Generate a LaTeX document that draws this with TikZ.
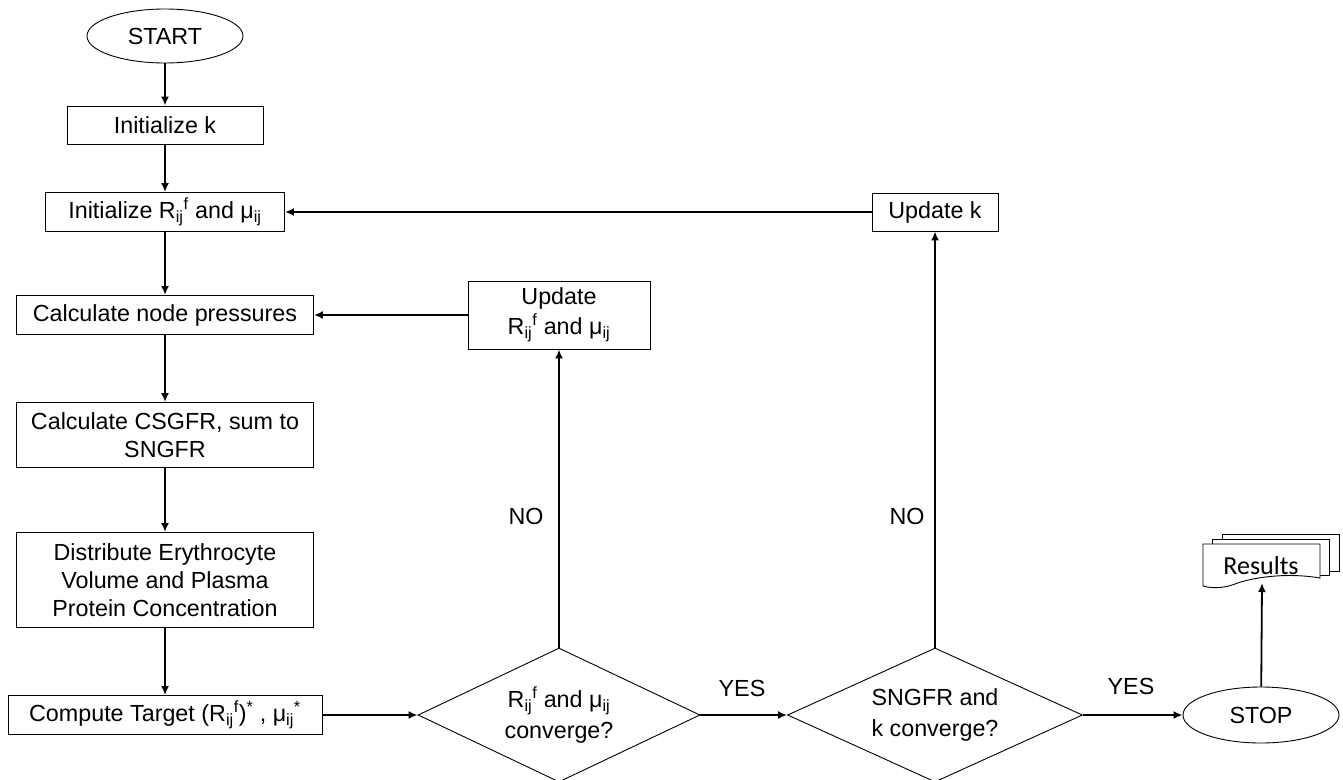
\documentclass[tikz,border=0pt]{standalone}
\usepackage{fontspec}
\setmainfont{Liberation Sans}
\newfontfamily\calib{Carlito}
\usetikzlibrary{shapes.geometric,arrows.meta}
\newcommand{\Rijf}{R\textsubscript{ij}\textsuperscript{f}}
\newcommand{\muij}{μ\textsubscript{ij}}
\begin{document}
\begin{tikzpicture}[x=1pt,y=-1pt,
  font=\fontsize{23.3}{28}\selectfont,
  box/.style={draw, line width=0.9pt, inner sep=2pt, align=center},
  dia/.style={draw, diamond, line width=0.9pt, inner sep=0pt, aspect=2.1, minimum height=134pt, align=center, font=\fontsize{23.3}{31}\selectfont},
  oval/.style={draw, ellipse, line width=0.9pt, inner sep=0pt},
  arr/.style={line width=1.8pt, -{Latex[length=9pt,width=8pt]}},
  lbl/.style={inner sep=0pt}]
\useasboundingbox (0,0) rectangle (1343,779);
\clip (0,0) rectangle (1343,779);

% left column
\node[oval, minimum width=156pt, minimum height=54pt] (start) at (165,36) {START};
\node[box, minimum width=196pt, minimum height=38pt] (initk) at (165,125) {Initialize k};
\node[box, minimum width=239pt, minimum height=39pt] (initR) at (165,212) {Initialize \Rijf{} and \muij};
\node[box, minimum width=297pt, minimum height=39pt] (calcP) at (165,315) {Calculate node pressures};
\node[box, minimum width=297pt, minimum height=65pt] (calcC) at (165,435) {Calculate CSGFR, sum to\\SNGFR};
\node[box, minimum width=297pt, minimum height=95pt] (dist) at (165,580) {Distribute Erythrocyte\\Volume and Plasma\\Protein Concentration};
\node[box, minimum width=314pt, minimum height=39pt] (comp) at (165,715) {Compute Target (\Rijf)\textsuperscript{*} , \muij\textsuperscript{*}};

% decisions
\node[dia, minimum width=282pt] (d1) at (559,715) {\Rijf{} and \muij\\converge?};
\node[dia, minimum width=295pt] (d2) at (935,715) {SNGFR and\\k converge?};
\node[oval, minimum width=156pt, minimum height=56pt] (stop) at (1261,715) {STOP};

% updates
\node[box, minimum width=182pt, minimum height=68pt, font=\fontsize{23.3}{30}\selectfont] (updR) at (559,315) {Update\\\Rijf{} and \muij};
\node[box, minimum width=126pt, minimum height=38pt] (updk) at (935,212) {Update k};

% results document stack
\filldraw[fill=white, line width=0.9pt] (1222,534) rectangle (1339,571);
\filldraw[fill=white, line width=0.9pt] (1212,539) rectangle (1329,575);
\filldraw[fill=white, line width=0.9pt] (1203,544) -- (1320,544) -- (1320,578)
  .. controls (1285,572) and (1250,578) .. (1235,584)
  .. controls (1222,589) and (1210,588) .. (1203,586) -- cycle;
\node[lbl, font=\calib\fontsize{26}{30}\selectfont] (res) at (1261,566) {Results};
\coordinate (resb) at (1262,583);

% labels
\node[lbl] (no1) at (526,516) {NO};
\node[lbl] (no2) at (907,516) {NO};
\node[lbl] (yes1) at (742,688) {YES};
\node[lbl] (yes2) at (1131,686) {YES};

% connectors
\draw[arr] (start) -- (initk);
\draw[arr] (initk) -- (initR);
\draw[arr] (initR) -- (calcP);
\draw[arr] (calcP) -- (calcC);
\draw[arr] (calcC) -- (dist);
\draw[arr] (dist) -- (comp);
\draw[arr] (comp) -- (d1);
\draw[arr] (d1) -- (d2);
\draw[arr] (d2) -- (stop);
\draw[arr] (d1) -- (updR);
\draw[arr] (updR) -- (calcP);
\draw[arr] (d2) -- (updk);
\draw[arr] (updk) -- (initR);
\draw[arr] (stop) -- (resb);
\end{tikzpicture}
\end{document}
